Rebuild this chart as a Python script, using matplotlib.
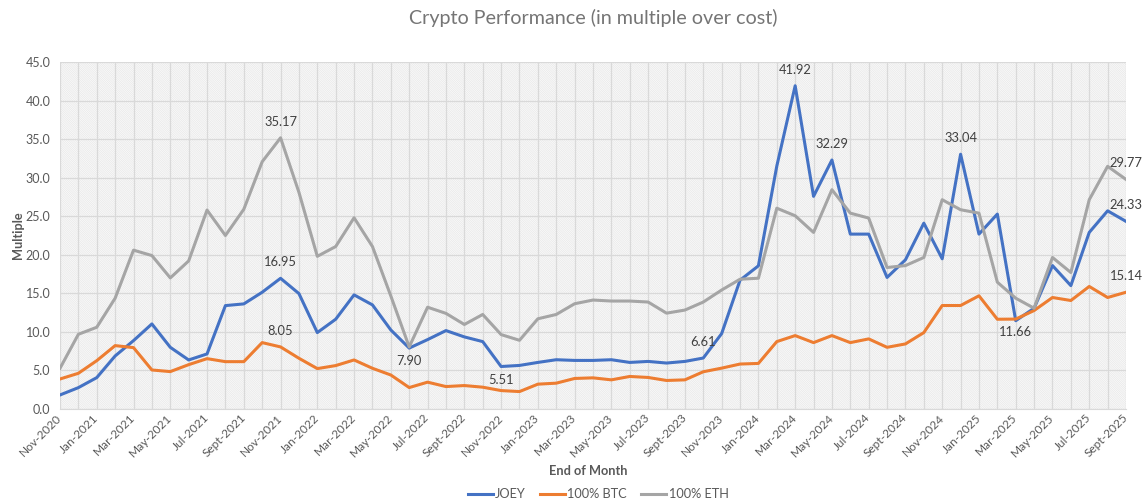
import matplotlib

matplotlib.use("Agg")
import matplotlib.pyplot as plt  # noqa: E402
from matplotlib.patches import Rectangle  # noqa: E402

# 配色（Excel 默认）
C_JOEY = "#4472C4"
C_BTC = "#ED7D31"
C_ETH = "#A5A5A5"
C_TEXT = "#595959"
C_GRID = "#D9D9D9"

plt.rcParams["font.family"] = ["Lato", "DejaVu Sans"]
plt.rcParams["hatch.linewidth"] = 0.5

# 月末：Nov-2020 .. Sept-2025
months = ["Nov", "Dec", "Jan", "Feb", "Mar", "Apr", "May", "Jun", "Jul", "Aug", "Sept", "Oct"]
periods = []
for i in range(59):
    m = months[i % 12]
    year = 2020 + (i + 10) // 12
    periods.append(f"{m}-{year}")

joey = [1.82, 2.77, 4.07, 6.88, 8.87, 11.03, 8.00, 6.36, 7.14, 13.41,
        13.63, 15.14, 16.95, 14.97, 9.91, 11.64, 14.80, 13.50, 10.25, 7.90,
        9.00, 10.17, 9.35, 8.74, 5.51, 5.65, 6.04, 6.39, 6.30, 6.30,
        6.39, 6.04, 6.17, 5.96, 6.17, 6.61, 9.78, 16.70, 18.57, 31.50,
        41.92, 27.58, 32.29, 22.68, 22.68, 17.06, 19.35, 24.10, 19.48, 33.04,
        22.68, 25.28, 11.45, 13.07, 18.60, 16.00, 22.90, 25.70, 24.33]
btc = [3.89, 4.63, 6.27, 8.22, 7.96, 5.06, 4.85, 5.75, 6.53, 6.14,
       6.14, 8.61, 8.05, 6.58, 5.24, 5.63, 6.36, 5.28, 4.41, 2.78,
       3.48, 2.91, 3.04, 2.83, 2.39, 2.26, 3.22, 3.35, 3.96, 4.04,
       3.78, 4.22, 4.09, 3.70, 3.78, 4.83, 5.30, 5.83, 5.91, 8.74,
       9.52, 8.61, 9.52, 8.61, 9.09, 8.00, 8.44, 9.91, 13.42, 13.42,
       14.68, 11.64, 11.66, 12.77, 14.46, 14.07, 15.89, 14.46, 15.14]
eth = [5.28, 9.69, 10.60, 14.37, 20.60, 19.90, 17.00, 19.20, 25.80, 22.50,
       25.90, 32.06, 35.17, 28.10, 19.80, 21.07, 24.80, 21.07, 14.66, 8.05,
       13.20, 12.40, 10.96, 12.26, 9.65, 8.91, 11.70, 12.26, 13.65, 14.13,
       14.00, 14.00, 13.87, 12.43, 12.83, 13.87, 15.43, 16.83, 16.96, 26.04,
       25.06, 22.90, 28.44, 25.40, 24.76, 18.35, 18.60, 19.65, 27.14, 25.84,
       25.40, 16.45, 14.37, 13.07, 19.65, 17.70, 27.14, 31.47, 29.77]

# 数据标签：(月份下标, 位置)
labels_joey = [(12, "above"), (19, "below"), (24, "below"), (35, "above"),
               (40, "above"), (42, "above"), (49, "above"), (58, "above")]
labels_btc = [(12, "above"), (52, "below"), (58, "above")]
labels_eth = [(12, "above"), (58, "above")]

W, H = 1146, 504
fig = plt.figure(figsize=(W / 100, H / 100), dpi=100)
ax = fig.add_axes([60 / W, (H - 409) / H, (1126 - 60) / W, (409 - 62) / H])

# 斜线底纹
bg = Rectangle((0, 0), 1, 1, transform=ax.transAxes, facecolor="white",
               edgecolor="#E6E6E6", linewidth=0, hatch="\\" * 18, zorder=0.1)
ax.add_patch(bg)

x = list(range(len(periods)))
ax.plot(x, joey, color=C_JOEY, linewidth=2.2, label="JOEY", zorder=3)
ax.plot(x, btc, color=C_BTC, linewidth=2.2, label="100% BTC", zorder=3)
ax.plot(x, eth, color=C_ETH, linewidth=2.2, label="100% ETH", zorder=3)

for series, lbls in ((joey, labels_joey), (btc, labels_btc), (eth, labels_eth)):
    for i, pos in lbls:
        dy = 11.5 if pos == "above" else -9.5
        ax.annotate(f"{series[i]:.2f}", (i, series[i]), textcoords="offset points",
                    xytext=(0, dy), ha="center", va="center", fontsize=9.3,
                    color="#404040", zorder=4)

ax.set_xlim(0, 58)
ax.set_ylim(0, 45)
ax.set_yticks([v * 5 for v in range(10)])
ax.set_yticklabels([f"{v * 5:.1f}" for v in range(10)])
ax.set_xticks(x, minor=True)
ax.set_xticks(x[::2])
ax.set_xticklabels(periods[::2], rotation=45, ha="right", va="center",
                   rotation_mode="anchor")
ax.tick_params(axis="y", length=0, colors=C_TEXT, labelsize=9.0, pad=7)
ax.tick_params(axis="x", which="both", length=0, colors=C_TEXT, labelsize=8.6, pad=5)

ax.set_axisbelow(True)
ax.grid(axis="y", color=C_GRID, linewidth=0.9)
ax.grid(axis="x", which="both", color=C_GRID, linewidth=0.9)
for side in ("top", "right", "left"):
    ax.spines[side].set_visible(False)
ax.spines["bottom"].set_color(C_GRID)

fig.text(593 / W, 1 - 18 / H, "Crypto Performance (in multiple over cost)",
         ha="center", va="center", fontsize=14.2, color="#757575")
fig.text(588 / W, 1 - 471 / H, "End of Month", ha="center", va="center",
         fontsize=9.2, fontweight="bold", color=C_TEXT)
fig.text(18 / W, 1 - 235 / H, "Multiple", ha="center", va="center", rotation=90,
         fontsize=9.2, fontweight="bold", color=C_TEXT)

leg = fig.legend(loc="center", bbox_to_anchor=(598 / W, 1 - 494 / H), ncol=3,
                 frameon=False, fontsize=9.2, handlelength=1.95, handletextpad=0.2,
                 columnspacing=1.1)
for t in leg.get_texts():
    t.set_color(C_TEXT)

fig.savefig("out.png", dpi=100)
